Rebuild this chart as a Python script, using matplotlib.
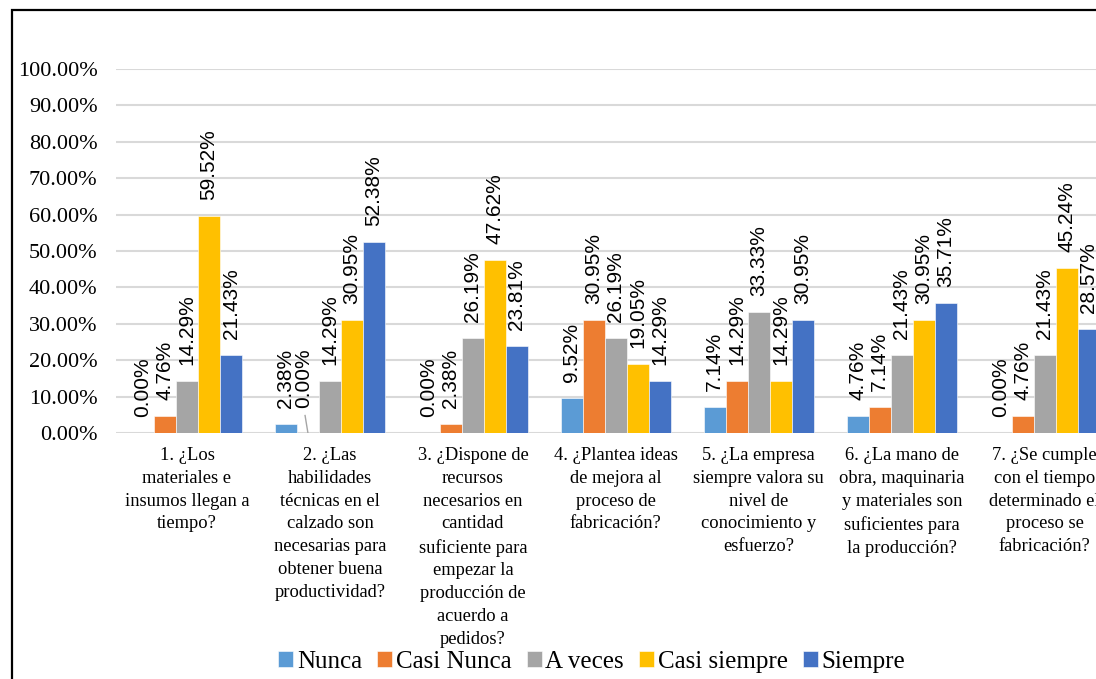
import numpy as np
import matplotlib
matplotlib.use('Agg')
import matplotlib.pyplot as plt
from matplotlib.patches import Rectangle

# survey answers per question, share of respondents (%)
preguntas = ['1. ¿Los\nmateriales e\ninsumos llegan a\ntiempo?',
             '2. ¿Las\nhabilidades\ntécnicas en el\ncalzado son\nnecesarias para\nobtener buena\nproductividad?',
             '3. ¿Dispone de\nrecursos\nnecesarios en\ncantidad\nsuficiente para\nempezar la\nproducción de\nacuerdo a\npedidos?',
             '4. ¿Plantea ideas\nde mejora al\nproceso de\nfabricación?',
             '5. ¿La empresa\nsiempre valora su\nnivel de\nconocimiento y\nesfuerzo?',
             '6. ¿La mano de\nobra, maquinaria\ny materiales son\nsuficientes para\nla producción?',
             '7. ¿Se cumple\ncon el tiempo\ndeterminado el\nproceso se\nfabricación?']
series = ['Nunca', 'Casi Nunca', 'A veces', 'Casi siempre', 'Siempre']
nunca = [0.00, 2.38, 0.00, 9.52, 7.14, 4.76, 0.00]
casi_nunca = [4.76, 0.00, 2.38, 30.95, 14.29, 7.14, 4.76]
a_veces = [14.29, 14.29, 26.19, 26.19, 33.33, 21.43, 21.43]
casi_siempre = [59.52, 30.95, 47.62, 19.05, 14.29, 30.95, 45.24]
siempre = [21.43, 52.38, 23.81, 14.29, 30.95, 35.71, 28.57]
y_ticks = [0, 10, 20, 30, 40, 50, 60, 70, 80, 90, 100]

colores = ['#5B9BD5', '#ED7D31', '#A5A5A5', '#FFC000', '#4472C4']
datos = [nunca, casi_nunca, a_veces, casi_siempre, siempre]

serif = 'Liberation Serif'
sans = 'Liberation Sans'

fig = plt.figure(figsize=(10.96, 6.79), dpi=100)
# axes runs past the right edge, the last group gets cut off
ax = fig.add_axes([0.1054, 0.3623, 0.913, 0.5361])

x = np.arange(len(preguntas))
ancho = 0.154
for i, (nombre, vals) in enumerate(zip(series, datos)):
    pos = x + (i - 2) * ancho
    ax.bar(pos, vals, ancho, color=colores[i], label=nombre,
           edgecolor='white', linewidth=0.4, zorder=3)
    for j, (p, v) in enumerate(zip(pos, vals)):
        dx, dy = 0, 11.5
        if i == 1 and j == 1:
            # overlapping label moved up and tied back with a leader line
            dx, dy = -3, 18
            ax.plot([p - 0.02, p], [4.8, 0], color='#A5A5A5', lw=1, zorder=4)
        ax.annotate(f'{v:.2f}%', (p, v), xytext=(dx, dy), textcoords='offset points',
                    rotation=90, ha='center', va='bottom', fontsize=15,
                    family=sans, annotation_clip=False)

ax.set_xlim(-0.5, len(preguntas) - 0.5)
ax.set_ylim(0, 100)
ax.set_yticks(y_ticks)
ax.set_yticklabels([f'{t:.2f}%' for t in y_ticks], family=serif, fontsize=16)
ax.set_xticks(x)
ax.set_xticklabels(preguntas, family=serif, fontsize=13.3, linespacing=1.45)
ax.tick_params(axis='both', length=0)
ax.tick_params(axis='y', pad=13)
ax.tick_params(axis='x', pad=10)
ax.grid(axis='y', color='#D9D9D9', linewidth=1.5, zorder=0)
for s in ax.spines.values():
    s.set_visible(False)

leg = fig.legend(loc='center', bbox_to_anchor=(0.54, 0.025), ncol=5, frameon=False,
                 prop={'family': serif, 'size': 18}, handlelength=0.6, handleheight=0.6,
                 handletextpad=0.15, columnspacing=0.6, borderaxespad=0)

# chart border
fig.patches.append(Rectangle((12 / 1096, -0.1), 1.2, 1.1 - 10 / 679, transform=fig.transFigure,
                             fill=False, edgecolor='black', linewidth=1.6))

fig.savefig('out.png', dpi=100)
